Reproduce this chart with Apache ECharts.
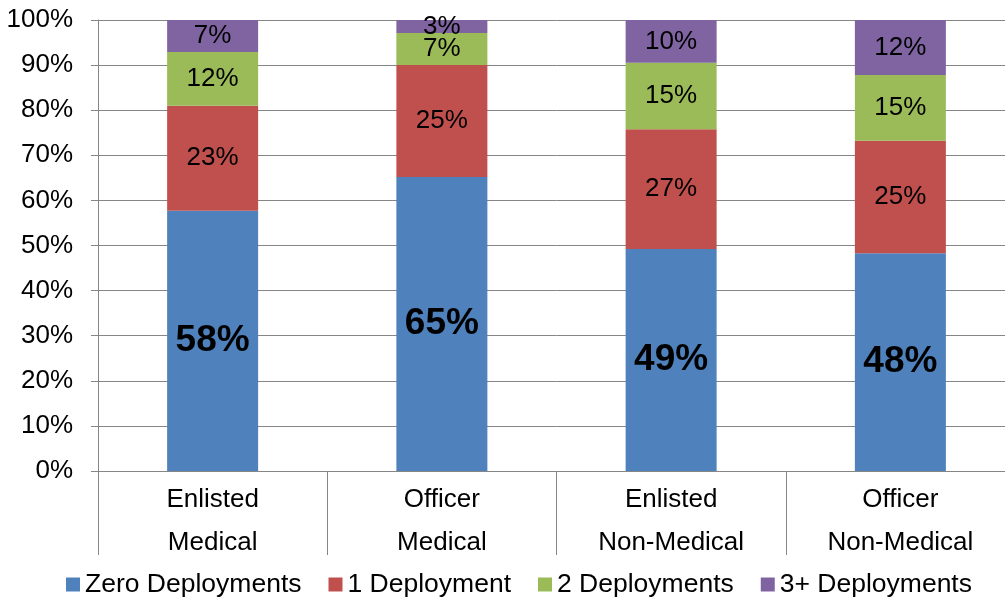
<!DOCTYPE html>
<html>
<head>
<meta charset="utf-8">
<script src="https://cdn.jsdelivr.net/npm/echarts@6/dist/echarts.min.js"></script>
<style>
  html, body { margin: 0; padding: 0; background: #fff; overflow: hidden; }
  /* the plot runs a few px past the right edge, so the chart is a bit wider than the window */
  #chart { width: 1015px; height: 597px; }
</style>
</head>
<body>
<div id="chart"></div>
<script>
// categories along x (two-line labels)
const categories = ['Enlisted\nMedical', 'Officer\nMedical', 'Enlisted\nNon-Medical', 'Officer\nNon-Medical'];

// share of each group, percent
const zeroDeployments = [57.7, 65.2, 49.2, 48.3];
const oneDeployment = [23.3, 24.8, 26.6, 24.9];
const twoDeployments = [11.9, 7.1, 14.7, 14.6];
const threePlusDeployments = [7.1, 2.9, 9.5, 12.2];

const seriesNames = ['Zero Deployments', '1 Deployment', '2 Deployments', '3+ Deployments'];
const seriesColors = ['#4f81bd', '#c0504d', '#9bbb59', '#8064a2'];
const seriesData = [zeroDeployments, oneDeployment, twoDeployments, threePlusDeployments];

const FONT = '"Liberation Sans", Arial, sans-serif';

const chart = echarts.init(document.getElementById('chart'));

const series = seriesData.map((data, i) => ({
  name: seriesNames[i],
  type: 'bar',
  stack: 'total',
  barWidth: 91,
  data: data,
  itemStyle: { color: seriesColors[i] },
  label: {
    show: true,
    position: 'inside',
    color: '#000',
    fontFamily: FONT,
    // the first series gets the big bold labels
    fontSize: i === 0 ? 37 : 26,
    fontWeight: i === 0 ? 'bold' : 'normal',
    formatter: (p) => Math.round(p.value) + '%'
  },
  emphasis: { disabled: true }
}));

chart.setOption({
  animation: false,
  textStyle: { fontFamily: FONT },
  grid: { left: 98, right: 0, top: 20, bottom: 126, containLabel: false },
  legend: {
    data: seriesNames,
    left: 66,
    top: 571,
    padding: 0,
    itemWidth: 14,
    itemHeight: 14,
    itemGap: 27,
    icon: 'rect',
    textStyle: { fontSize: 26.5, color: '#000', fontFamily: FONT }
  },
  xAxis: {
    type: 'category',
    data: categories,
    axisLine: { lineStyle: { color: '#868686', width: 1 } },
    axisTick: { show: true, length: 84, lineStyle: { color: '#868686', width: 1 } },
    axisLabel: {
      color: '#000',
      fontSize: 26,
      lineHeight: 43,
      margin: 7,
      interval: 0
    }
  },
  yAxis: {
    type: 'value',
    min: 0,
    max: 100,
    interval: 10,
    axisLine: { show: true, lineStyle: { color: '#868686', width: 1 } },
    axisTick: { show: true, length: 7, lineStyle: { color: '#868686' } },
    splitLine: { show: true, lineStyle: { color: '#868686', width: 1 } },
    axisLabel: {
      color: '#000',
      fontSize: 26,
      margin: 25,
      formatter: '{value}%'
    }
  },
  series: series
});
</script>
</body>
</html>
